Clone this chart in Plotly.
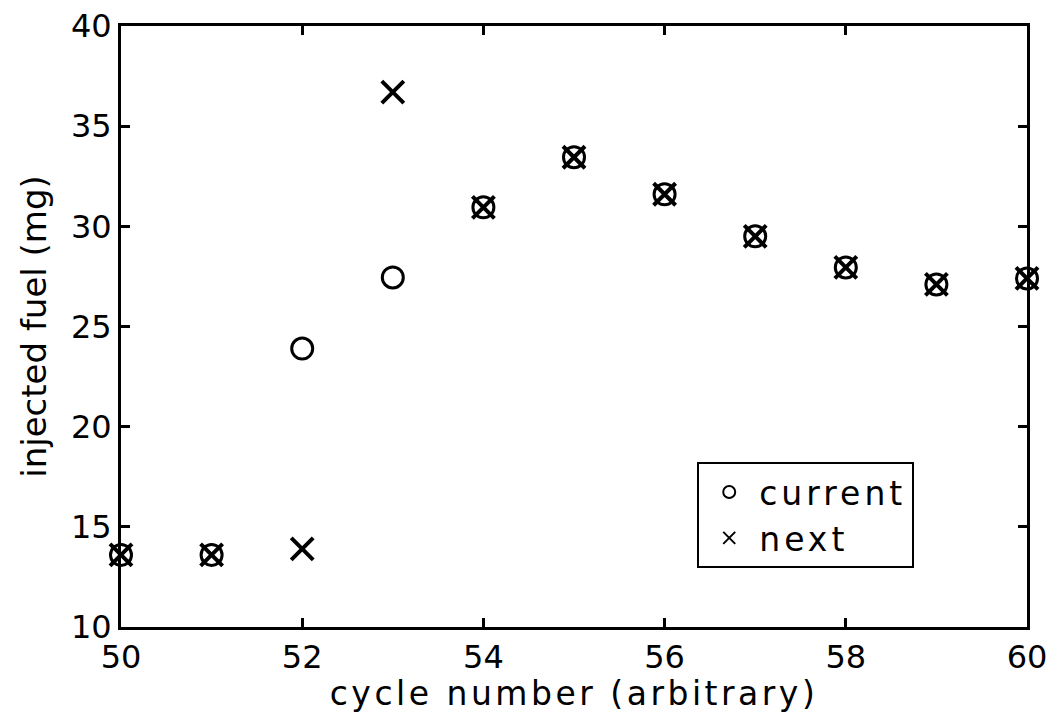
import plotly.graph_objects as go

cycle = [50, 51, 52, 53, 54, 55, 56, 57, 58, 59, 60]
current_fuel = [13.6, 13.6, 23.9, 27.45, 30.95, 33.45, 31.6, 29.5, 27.95, 27.1, 27.4]
next_fuel = [13.6, 13.6, 13.9, 36.7, 30.95, 33.45, 31.6, 29.5, 27.95, 27.1, 27.4]

x_ticks = [50, 52, 54, 56, 58, 60]
y_ticks = [10, 15, 20, 25, 30, 35, 40]

font_family = "DejaVu Sans, Liberation Sans, Arial, sans-serif"


def spaced(text, px):
    return f'<span style="letter-spacing:{px}px">{text}</span>'


fig = go.Figure()
fig.add_trace(go.Scatter(
    x=cycle, y=current_fuel, mode="markers", name=spaced("current", 4),
    marker=dict(symbol="circle-open", size=21, color="black",
                line=dict(width=3, color="black")),
    cliponaxis=False,
))
fig.add_trace(go.Scatter(
    x=cycle, y=next_fuel, mode="markers", name=spaced("next", 4),
    marker=dict(symbol="x-thin-open", size=22, color="black",
                line=dict(width=4, color="black")),
    cliponaxis=False,
))

axis_common = dict(
    showgrid=False, zeroline=False, showline=True, linecolor="black",
    linewidth=3, mirror="ticks", ticks="inside", ticklen=9, tickwidth=3,
    tickcolor="black", tickfont=dict(family=font_family, size=32, color="black"),
    automargin=False,
)

fig.update_layout(
    width=1054, height=713,
    margin=dict(l=121, r=27, t=26, b=86),
    paper_bgcolor="white", plot_bgcolor="white",
    font=dict(family=font_family, color="black"),
    xaxis=dict(range=[50, 60], tickvals=x_ticks, ticktext=[str(v) for v in x_ticks],
               title=dict(text=spaced("cycle number (arbitrary)", 3.5), standoff=4,
                          font=dict(family=font_family, size=33)),
               **axis_common),
    yaxis=dict(range=[10, 40], tickvals=y_ticks, ticktext=[str(v) for v in y_ticks],
               title=dict(text="injected fuel (mg)", standoff=14,
                          font=dict(family=font_family, size=34)),
               **axis_common),
    legend=dict(x=0.636, y=0.2745, xanchor="left", yanchor="top",
                bgcolor="white", bordercolor="black", borderwidth=2,
                font=dict(family=font_family, size=33, color="black"),
                itemsizing="constant", itemwidth=50, tracegroupgap=0),
    showlegend=True,
)

fig.write_html("out.html")
